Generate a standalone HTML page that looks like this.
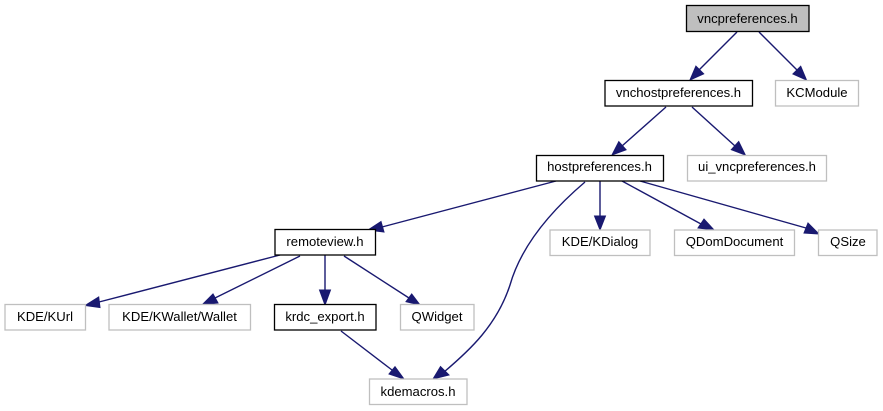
<!DOCTYPE html>
<html><head><meta charset="utf-8"><style>
html,body{margin:0;padding:0;background:#fff;width:883px;height:411px;overflow:hidden}
svg{display:block}
text{font-family:"Liberation Sans",sans-serif;font-size:13.1px;fill:#000;text-anchor:middle}
.b{fill:#fff;stroke:#000;stroke-width:1.3}
.g{fill:#fff;stroke:#bfbfbf;stroke-width:1.3}
.e{fill:none;stroke:#191970;stroke-width:1.4}
.a{fill:#191970;stroke:#191970;stroke-width:1}
</style></head><body>
<svg width="883" height="411" viewBox="0 0 883 411" xmlns="http://www.w3.org/2000/svg">
<path class="e" d="M737,32L699,70"/><polygon class="a" points="690,80 695.900,66.100 703.700,73.900"/>
<path class="e" d="M759,32L797,70"/><polygon class="a" points="806.500,80 792.900,74 800.700,66.200"/>
<path class="e" d="M666,107L622,146"/><polygon class="a" points="612,155 618.800,141.600 626.100,149.800"/>
<path class="e" d="M692,107L735,146"/><polygon class="a" points="745.300,155 731.300,149.700 738.700,141.500"/>
<path class="e" d="M556,181L382,227"/><polygon class="a" points="368,230 381,221.500 384,232"/>
<path class="e" d="M585,182C545,216 520,250 510,285C497,325 470,350 444,372"/><polygon class="a" points="433,379 440.500,366.500 449,375"/>
<path class="e" d="M600,181V217"/><polygon class="a" points="600,230 594.500,216 605.500,216"/>
<path class="e" d="M622,181L701,224"/><polygon class="a" points="714,230 698,228 704,219"/>
<path class="e" d="M640,181L806,228"/><polygon class="a" points="819,234 804,233 808,223"/>
<path class="e" d="M280,255L99,302"/><polygon class="a" points="85,305.500 98.700,297 100,307.500"/>
<path class="e" d="M300,256L215,298"/><polygon class="a" points="202,305 213,294 218,303"/>
<path class="e" d="M325,255V291"/><polygon class="a" points="325,305 319.500,290 330.500,290"/>
<path class="e" d="M344,256L409,298"/><polygon class="a" points="420,305 406,301.700 411.700,294"/>
<path class="e" d="M341,331L392,370"/><polygon class="a" points="404,379 389,374 395,366.700"/>
<rect x="686.500" y="5.500" width="122.500" height="26" fill="#bfbfbf" stroke="#000" stroke-width="1.3"/><text x="747.500" y="23">vncpreferences.h</text>
<rect class="b" x="605" y="80.500" width="147.500" height="25.500"/><text x="678.500" y="97">vnchostpreferences.h</text>
<rect class="g" x="775.500" y="80.500" width="83" height="25.500"/><text x="817" y="97">KCModule</text>
<rect class="b" x="536.500" y="155.500" width="127" height="25.500"/><text x="599.500" y="171">hostpreferences.h</text>
<rect class="g" x="687.500" y="155.500" width="139" height="25.500"/><text x="757" y="171">ui_vncpreferences.h</text>
<rect class="g" x="550" y="230" width="100" height="25.500"/><text x="600" y="246">KDE/KDialog</text>
<rect class="g" x="674.500" y="230" width="120" height="25.500"/><text x="734.500" y="246">QDomDocument</text>
<rect class="g" x="818.500" y="230" width="58.500" height="25.500"/><text x="848" y="246">QSize</text>
<rect class="b" x="275" y="229.500" width="100.500" height="25.500"/><text x="325" y="246">remoteview.h</text>
<rect class="g" x="5" y="304.500" width="80.500" height="25.500"/><text x="45" y="321">KDE/KUrl</text>
<rect class="g" x="109" y="304.500" width="141.500" height="25.500"/><text x="179.500" y="321">KDE/KWallet/Wallet</text>
<rect class="b" x="274.500" y="304.500" width="101.500" height="25.500"/><text x="325" y="321">krdc_export.h</text>
<rect class="g" x="400.500" y="304.500" width="73.500" height="25.500"/><text x="437" y="321">QWidget</text>
<rect class="g" x="369.500" y="379" width="97.500" height="25.500"/><text x="418" y="396">kdemacros.h</text>
</svg>
</body></html>
